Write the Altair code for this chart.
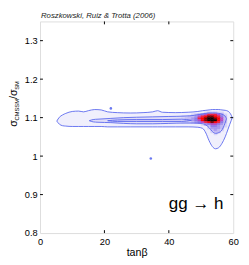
import altair as alt
import pandas as pd

# ---------------- text ----------------
title_text = "Roszkowski, Ruiz & Trotta (2006)"
process_text = "gg \u2192 h"
x_title = "tan\u03b2"

# ---------------- axes ----------------
x_ticks = [0, 20, 40, 60]
y_ticks = [0.8, 0.9, 1.0, 1.1, 1.2, 1.3]

# ---------------- outer (95%) contour: x, upper edge, lower edge ----------------
outer_x = [5.2, 6, 7, 8, 10, 12, 13.5, 15, 17, 19, 21, 24, 28, 32, 35, 36.5, 38, 42, 46, 49,
           50.5, 51.5, 52.5, 53.5, 54.5, 55.5, 56.5, 57.5, 58.3, 58.9, 59.4, 59.7]
outer_top = [1.091, 1.101, 1.107, 1.111, 1.116, 1.117, 1.115, 1.118, 1.121, 1.120, 1.115, 1.113,
             1.112, 1.113, 1.115, 1.118, 1.114, 1.113, 1.114, 1.116,
             1.118, 1.119, 1.120, 1.121, 1.121, 1.121, 1.120, 1.119, 1.117, 1.113, 1.106, 1.100]
outer_bot = [1.091, 1.083, 1.079, 1.078, 1.077, 1.077, 1.077, 1.077, 1.077, 1.077, 1.076, 1.076,
             1.076, 1.076, 1.076, 1.076, 1.076, 1.076, 1.076, 1.075,
             1.072, 1.060, 1.040, 1.025, 1.019, 1.022, 1.033, 1.050, 1.068, 1.082, 1.093, 1.100]

# ---------------- middle (68%) contour ----------------
mid_x = [15.3, 16.5, 18, 22, 26, 30, 35, 40, 45, 48, 50, 51.5, 52.5, 53.5, 54.5, 55.5, 56.5, 57.2, 57.7, 57.9]
mid_top = [1.092, 1.095, 1.096, 1.098, 1.100, 1.101, 1.102, 1.103, 1.104, 1.106, 1.109, 1.111,
           1.112, 1.112, 1.112, 1.111, 1.109, 1.106, 1.101, 1.097]
mid_bot = [1.092, 1.089, 1.088, 1.087, 1.085, 1.084, 1.084, 1.085, 1.086, 1.086, 1.085, 1.081,
           1.074, 1.064, 1.059, 1.061, 1.068, 1.080, 1.092, 1.097]

# ---------------- inner sliver contour ----------------
core_x = [21, 24, 30, 38, 44, 47]
core_top = [1.092, 1.094, 1.095, 1.095, 1.096, 1.093]
core_bot = [1.092, 1.090, 1.090, 1.090, 1.090, 1.093]

# ---------------- isolated specks ----------------
dot_x = [22.0, 34.4]
dot_y = [1.124, 0.994]

# ---------------- density peak (levels 0-9), columns x = 44..58, rows from y = 1.115 down ----------------
hot_x_start = 44
hot_y_top = 1.115
hot_rows = [
    "000000012221100",
    "000123456665310",
    "112235678876420",
    "122346789987520",
    "122345789997520",
    "111234567876420",
    "000000134554310",
    "000000002443210",
    "000000001333200",
    "000000000232100",
    "000000000122000",
    "000000000010000",
]
level_names = ["1", "2", "3", "4", "5", "6", "7", "8", "9"]
level_colors = ["#D8D4F7", "#C2BBF4", "#A698EF", "#8E7CE8", "#B84CC4",
                "#EC2446", "#FF0000", "#7A0000", "#100000"]

outer_fill = "#F0EFFC"
mid_fill = "#E0DDF8"
core_fill = "#D2CEF6"
line_color = "#5866EE"

W, H = 199, 218
FONT = "Liberation Sans"

# ---------------- tables ----------------
def band(xv, tv, bv):
    return pd.DataFrame({"x": xv, "top": tv, "bot": bv})

def edges(xv, tv, bv):
    rows = [{"x": a, "y": b, "edge": "top"} for a, b in zip(xv, tv)]
    rows += [{"x": a, "y": b, "edge": "bot"} for a, b in zip(xv, bv)]
    return pd.DataFrame(rows)

hot = []
for i, row in enumerate(hot_rows):
    for j, ch in enumerate(row):
        if ch != "0":
            y1 = hot_y_top - 0.005 * i
            hot.append({"x": hot_x_start + j, "x2": hot_x_start + j + 1,
                        "y": y1, "y2": y1 - 0.005, "lvl": ch})
hot_df = pd.DataFrame(hot)

xs = alt.Scale(domain=[0, 60], nice=False, zero=False)
ys = alt.Scale(domain=[0.8, 1.35], nice=False, zero=False)
x_axis = alt.Axis(values=x_ticks, format="d", title=x_title, ticks=False, domain=False, grid=False,
                  labelFont=FONT, labelFontSize=9.5, labelColor="black", labelPadding=4,
                  labelFlush=False, labelOverlap=False,
                  titleFont=FONT, titleFontSize=11, titleFontWeight="normal", titleColor="black",
                  titlePadding=1)
y_axis = alt.Axis(values=y_ticks, format="~g", title=None, ticks=False, domain=False, grid=False,
                  labelFont=FONT, labelFontSize=9.5, labelColor="black", labelPadding=3,
                  labelFlush=False, labelOverlap=False)

def X(f):
    return alt.X(f, type="quantitative", scale=xs, axis=x_axis)

def Y(f):
    return alt.Y(f, type="quantitative", scale=ys, axis=y_axis)

layers = []
for (bx, bt, bb, col) in [(outer_x, outer_top, outer_bot, outer_fill),
                          (mid_x, mid_top, mid_bot, mid_fill),
                          (core_x, core_top, core_bot, core_fill)]:
    layers.append(alt.Chart(band(bx, bt, bb)).mark_area(color=col, interpolate="monotone")
                  .encode(x=X("x"), y=Y("top"), y2="bot"))

layers.append(alt.Chart(hot_df).mark_rect(strokeWidth=0.5).encode(
    x=X("x"), x2="x2", y=Y("y"), y2="y2",
    color=alt.Color("lvl:N", scale=alt.Scale(domain=level_names, range=level_colors), legend=None),
    stroke=alt.Stroke("lvl:N", scale=alt.Scale(domain=level_names, range=level_colors), legend=None)))

for (bx, bt, bb) in [(outer_x, outer_top, outer_bot), (mid_x, mid_top, mid_bot),
                     (core_x, core_top, core_bot)]:
    layers.append(alt.Chart(edges(bx, bt, bb)).mark_line(color=line_color, strokeWidth=0.9,
                                                         interpolate="monotone")
                  .encode(x=X("x"), y=Y("y"), detail="edge:N"))

layers.append(alt.Chart(pd.DataFrame({"x": dot_x, "y": dot_y})).mark_point(
    filled=True, color="#6A78F0", size=7, opacity=1).encode(x=X("x"), y=Y("y")))

# inward ticks on all four sides
xt = pd.DataFrame({"v": x_ticks[1:-1]})
yt = pd.DataFrame({"v": y_ticks[1:]})
layers.append(alt.Chart(xt).mark_rule(color="black", strokeWidth=1).encode(
    x=X("v"), y=alt.value(H), y2=alt.value(H - 3)))
layers.append(alt.Chart(xt).mark_rule(color="black", strokeWidth=1).encode(
    x=X("v"), y=alt.value(0), y2=alt.value(3)))
layers.append(alt.Chart(yt).mark_rule(color="black", strokeWidth=1).encode(
    y=Y("v"), x=alt.value(0), x2=alt.value(3)))
layers.append(alt.Chart(yt).mark_rule(color="black", strokeWidth=1).encode(
    y=Y("v"), x=alt.value(W - 3), x2=alt.value(W)))

# title
layers.append(alt.Chart(pd.DataFrame({"t": [title_text]})).mark_text(
    font=FONT, fontSize=8, fontStyle="italic", align="left", baseline="alphabetic", color="#222222"
).encode(text="t:N", x=alt.value(1), y=alt.value(-4)))

# process label
layers.append(alt.Chart(pd.DataFrame({"t": [process_text]})).mark_text(
    font=FONT, fontSize=17.5, align="right", baseline="alphabetic", color="black"
).encode(text="t:N", x=alt.value(189), y=alt.value(193)))

# y-axis title with subscripts, rotated
ylab = pd.DataFrame({
    "t": ["\u03c3", "CMSSM", "/\u03c3", "SM"],
    "px": [-24, -21.5, -24, -21.5],
    "py": [108.5, 102.1, 79.8, 70.4],
    "fs": [11, 6, 11, 6],
})
layers.append(alt.Chart(ylab).mark_text(font=FONT, angle=270, align="left", baseline="alphabetic",
                                        color="black").encode(
    text="t:N", x=alt.X("px:Q", scale=None), y=alt.Y("py:Q", scale=None),
    size=alt.Size("fs:Q", scale=None, legend=None)))

chart = alt.layer(*layers).properties(
    width=W, height=H,
    autosize=alt.AutoSizeParams(type="none"),
    padding={"left": 33, "top": 10, "right": 8, "bottom": 27},
).configure_view(stroke="black", strokeWidth=1).configure(background="white")

chart.save("out.html", embed_options={"renderer": "svg", "actions": False})
